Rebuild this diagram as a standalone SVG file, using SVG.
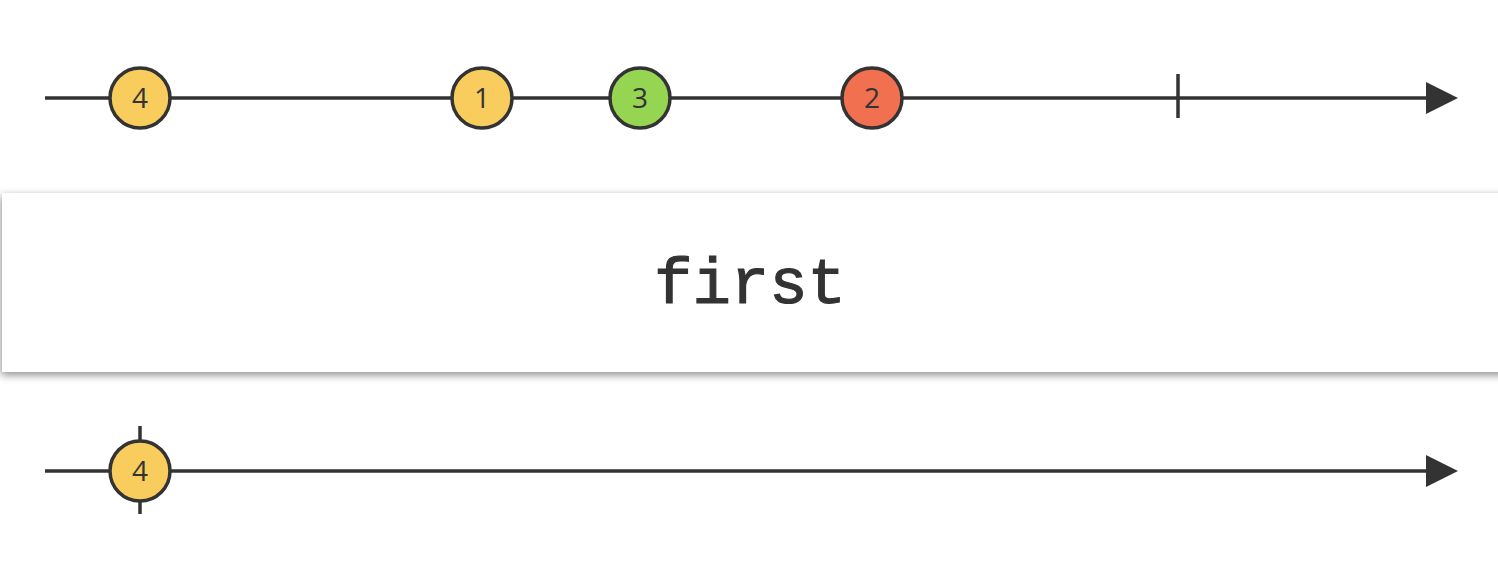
<svg xmlns="http://www.w3.org/2000/svg" width="1498" height="564" viewBox="0 0 1498 564">
<style>
.line{stroke:#333;stroke-width:3.5;fill:none}
.tick{stroke:#333;stroke-width:3.5}
.marble{stroke:#333;stroke-width:3.5}
.yellow{fill:#F8CD5E}
.green{fill:#96D551}
.red{fill:#F0704F}
.lbl{font-family:"Open Sans","Noto Sans",sans-serif;font-size:28px;fill:#333;text-anchor:middle}
.op{font-family:"Liberation Mono","Courier New",monospace;font-size:64px;fill:#333;stroke:#333;stroke-width:1.2;text-anchor:middle}
</style>
<defs>
<filter id="shadow" x="-5%" y="-20%" width="110%" height="150%">
<feGaussianBlur in="SourceAlpha" stdDeviation="4"/>
<feOffset dx="-1" dy="3" result="b"/>
<feComponentTransfer><feFuncA type="linear" slope="0.45"/></feComponentTransfer>
<feMerge><feMergeNode/><feMergeNode in="SourceGraphic"/></feMerge>
</filter>
</defs>
<rect width="1498" height="564" fill="#fff"/>
<g id="connectors">
<line class="line" x1="45" y1="98" x2="1430" y2="98"/>
<path d="M1426,82 L1458,98 L1426,114 Z" fill="#333"/>
<line class="tick" x1="1178" y1="74" x2="1178" y2="118"/>
<line class="line" x1="45" y1="471" x2="1430" y2="471"/>
<path d="M1426,455 L1458,471 L1426,487 Z" fill="#333"/>
<line class="tick" x1="140" y1="426" x2="140" y2="514"/>
</g>
<g id="operator">
<rect x="2" y="193" width="1510" height="179" fill="#fff" filter="url(#shadow)"/>
<text class="op" x="750" y="303">first</text>
</g>
<g id="in-4"><circle class="marble yellow" cx="140" cy="98" r="30"/><text class="lbl" x="140" y="108">4</text></g>
<g id="in-1"><circle class="marble yellow" cx="482" cy="98" r="30"/><text class="lbl" x="482" y="108">1</text></g>
<g id="in-3"><circle class="marble green" cx="640" cy="98" r="30"/><text class="lbl" x="640" y="108">3</text></g>
<g id="in-2"><circle class="marble red" cx="872" cy="98" r="30"/><text class="lbl" x="872" y="108">2</text></g>
<g id="out-4"><circle class="marble yellow" cx="140" cy="471" r="30"/><text class="lbl" x="140" y="481">4</text></g>
</svg>
